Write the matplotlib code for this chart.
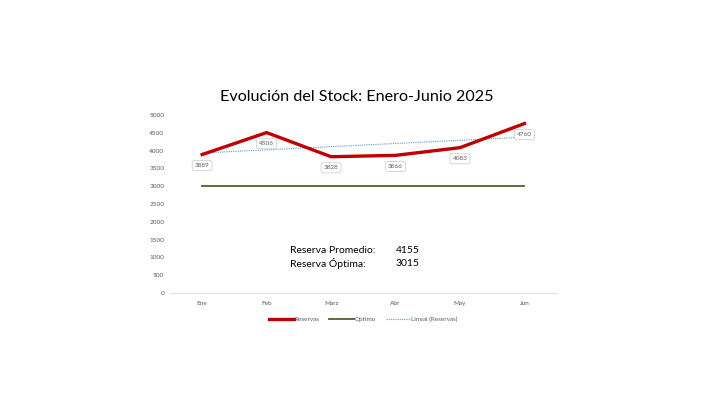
import numpy as np
import matplotlib.pyplot as plt

plt.rcParams['font.family'] = ['Lato', 'DejaVu Sans']

meses = ["Ene", "Feb", "Marz", "Abr", "May", "Jun"]
reservas = [3889, 4506, 3828, 3866, 4083, 4760]
optimo = [3015, 3015, 3015, 3015, 3015, 3015]
y_ticks = [0, 500, 1000, 1500, 2000, 2500, 3000, 3500, 4000, 4500, 5000]

x = np.arange(len(meses))

# linea de tendencia (como Excel: ajuste lineal)
coef = np.polyfit(x, reservas, 1)
tendencia = np.polyval(coef, x)

promedio = np.mean(reservas)

fig = plt.figure(figsize=(7.11, 4.0), dpi=100)
ax = fig.add_axes([0.239, 0.2675, 0.544, 0.445])

ax.plot(x, reservas, color="#C00000", lw=2.4, label="Reservas", zorder=3, solid_joinstyle="miter")
ax.plot(x, optimo, color="#4F6228", lw=1.3, label="Optimo", zorder=2)
ax.plot(x, tendencia, color="#5B9BD5", lw=0.8, ls=(0, (1, 1)), label="Lineal (Reservas)", zorder=2)

for i, v in enumerate(reservas):
    ax.annotate(str(v), (x[i], v), xytext=(0, -8), textcoords="offset points",
                ha="center", va="center", fontsize=4.6, color="#595959",
                bbox=dict(boxstyle="round,pad=0.4,rounding_size=0.3", fc="white", ec="#D0D0D0", lw=0.6),
                zorder=4)

ax.set_xlim(-0.5, 5.5)
ax.set_ylim(0, 5000)
ax.set_xticks(x)
ax.set_xticklabels(meses)
ax.set_yticks(y_ticks)
ax.tick_params(axis="both", length=0, labelsize=4.6, labelcolor="#595959")
ax.tick_params(axis="x", pad=6)
ax.tick_params(axis="y", pad=4)
for s in ["top", "right", "left"]:
    ax.spines[s].set_visible(False)
ax.spines["bottom"].set_color("#D9D9D9")
ax.spines["bottom"].set_linewidth(0.6)

ax.text(1.37, 1200, "Reserva Promedio:", fontsize=7.5, color="#000000", va="center")
ax.text(3.0, 1200, "%d" % round(promedio), fontsize=7.5, color="#000000", va="center")
ax.text(1.37, 820, "Reserva Óptima:", fontsize=7.5, color="#000000", va="center")
ax.text(3.0, 820, "%d" % optimo[0], fontsize=7.5, color="#000000", va="center")

fig.text(0.502, 0.757, "Evolución del Stock: Enero-Junio 2025", ha="center", va="center",
         fontsize=11.6, color="#000000")

leg = ax.legend(loc="upper center", bbox_to_anchor=(0.5, -0.1), ncol=3, frameon=False,
                fontsize=4.6, handlelength=3.8, handletextpad=0.1, columnspacing=1.6)
for t in leg.get_texts():
    t.set_color("#595959")

fig.savefig("out.png", dpi=100)
